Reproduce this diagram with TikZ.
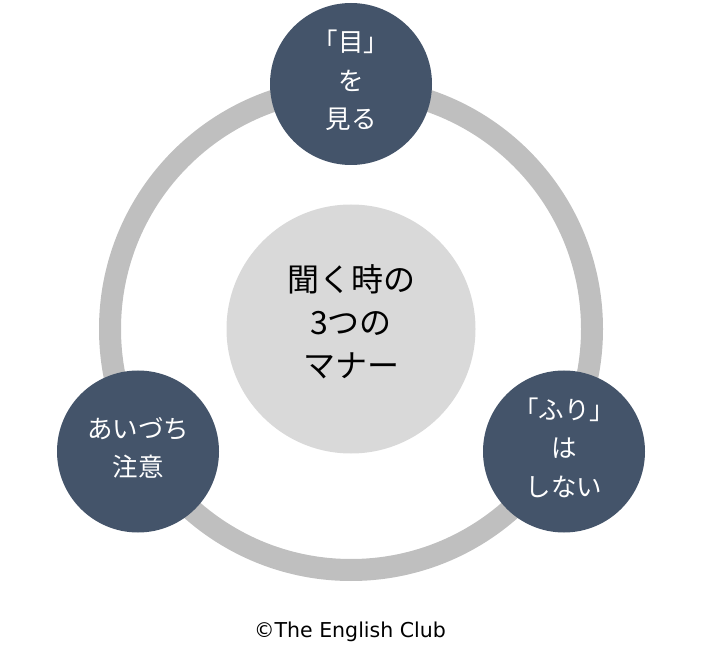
\documentclass[tikz,border=0pt]{standalone}
\usepackage{fontspec}
\setmainfont{DejaVu Sans}
\newfontfamily\jpfont{Noto Sans CJK JP}
\usetikzlibrary{positioning, calc}
\definecolor{pointBlue}{HTML}{44546A}
\definecolor{ringGrey}{HTML}{BFBFBF}
\definecolor{hubGrey}{HTML}{D9D9D9}
\tikzstyle{point} =[circle, fill=pointBlue, text=white, minimum size=162pt, inner sep=0pt, align=center, text depth=9pt, font=\jpfont\fontsize{25.5}{38.5}\selectfont]
\tikzstyle{hub} =[circle, fill=hubGrey, text=black, minimum size=249pt, inner sep=0pt, align=center, text depth=16pt, font=\jpfont\fontsize{32}{43}\selectfont]

\begin{document}
\begin{tikzpicture}[x=1pt, y=-1pt]
\useasboundingbox (0,0) rectangle (702,660);

\node (manner) [hub] at (351,329) {聞く時の\\3つの\\マナー};

% ring behind the three points
\draw [ringGrey, line width=22pt] (manner.center) circle (241pt);

\node (eye) [point] at ($(manner.center)+(0,-245)$) {「目」\\を\\見る};
\node (aizuchi) [point] at ($(manner.center)+(-213,122.5)$) {あいづち\\注意};
\node (furi) [point] at ($(manner.center)+(213,122.5)$) {「ふり」\\は\\しない};

\node (credit) [font=\fontsize{20.5}{24}\selectfont] at (350,632) {©The English Club};

\end{tikzpicture}
\end{document}
